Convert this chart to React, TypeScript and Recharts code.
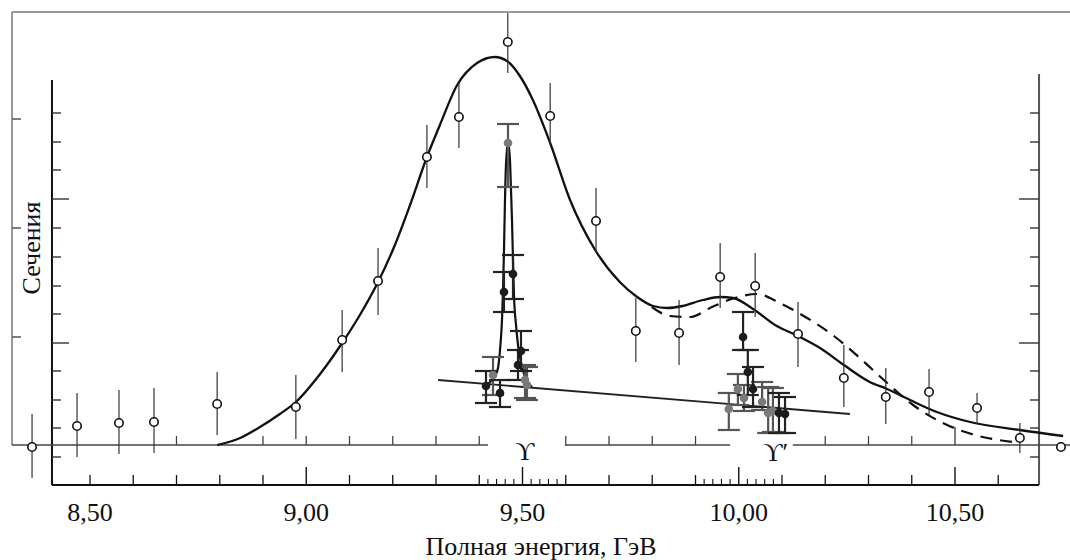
import React from 'react';
import { ComposedChart, XAxis, YAxis, Line, Scatter, ErrorBar, ReferenceLine, ReferenceDot } from 'recharts';

const FONT = '"Liberation Serif", "Times New Roman", "DejaVu Serif", serif';
const INK = '#111';

// wide scan, open circles: [energy GeV, cross-section, err down, err up]
const openPoints: [number, number, number, number][] = [
  [8.366, -0.2, 3.1, 3.3], [8.47, 1.9, 3.1, 3.3], [8.567, 2.2, 3.1, 3.3], [8.648, 2.3, 3.1, 3.4],
  [8.794, 4.1, 3.1, 3.2], [8.976, 3.8, 3.2, 3.2], [9.083, 10.5, 3.2, 3.0], [9.166, 16.4, 3.4, 3.3],
  [9.279, 28.8, 3.1, 3.2], [9.353, 32.8, 3.1, 3.4], [9.466, 40.3, 3.1, 2.9], [9.564, 32.9, 2.9, 3.3],
  [9.67, 22.4, 3.1, 3.3], [9.762, 11.4, 3.1, 3.3], [9.862, 11.2, 3.2, 3.3], [9.957, 16.8, 3.1, 3.4],
  [10.038, 15.9, 3.1, 3.3], [10.137, 11.1, 3.3, 3.2], [10.243, 6.7, 2.9, 3.3], [10.34, 4.8, 2.7, 2.9],
  [10.44, 5.3, 2.3, 2.3], [10.551, 3.7, 1.5, 1.5], [10.65, 0.7, 1.5, 1.5], [10.745, -0.2, 0.4, 0.4],
];

// broad fitted curve (solid)
const fitCurve: [number, number][] = [
  [8.794, 0], [8.847, 0.7], [8.893, 1.8], [8.939, 3.1], [8.976, 4.3], [9.032, 7.1], [9.083, 10.2], [9.124, 13.0],
  [9.166, 16.3], [9.205, 20.0], [9.24, 24.0], [9.279, 28.8], [9.309, 32.0], [9.349, 36.0], [9.395, 38.2],
  [9.436, 38.8], [9.464, 38.4], [9.494, 36.9], [9.524, 34.5], [9.564, 30.2], [9.61, 24.5], [9.668, 19.5],
  [9.725, 16.3], [9.762, 14.9], [9.802, 13.9], [9.835, 13.7], [9.87, 13.9], [9.917, 14.5], [9.957, 14.8],
  [9.987, 14.7], [10.033, 13.6], [10.088, 11.9], [10.137, 10.9], [10.188, 9.7], [10.243, 8.0], [10.303, 6.3],
  [10.343, 5.6], [10.396, 4.5], [10.458, 3.3], [10.535, 2.3], [10.65, 1.5], [10.75, 0.9],
];

// alternative fit (dashed)
const altCurve: [number, number][] = [
  [9.799, 13.8], [9.841, 12.9], [9.887, 12.8], [9.938, 13.8], [9.991, 14.7], [10.042, 15.1], [10.095, 14.2],
  [10.158, 12.7], [10.223, 10.8], [10.28, 8.7], [10.338, 6.4], [10.403, 4.0], [10.472, 2.2], [10.546, 1.0],
  [10.634, 0.3],
];

// fine scan background
const bgLine: [number, number][] = [[9.305, 6.5], [10.257, 3.1]];

// narrow Upsilon peak
const upsPeak: [number, number][] = [
  [9.4156, 5.9], [9.4249, 6.3], [9.4364, 6.9], [9.4434, 7.7], [9.448, 9.5], [9.4526, 12.5], [9.455, 15.5],
  [9.4572, 19.5], [9.4595, 24.5], [9.4618, 28.0], [9.4665, 30.3], [9.471, 28.5], [9.4734, 25.5],
  [9.4757, 22.5], [9.478, 18.5], [9.4803, 15.0], [9.485, 12.0], [9.4896, 10.0], [9.4965, 8.3],
  [9.5058, 6.8], [9.522, 5.8],
];

// fine scan points: [energy, cross-section, err down, err up]
const fineDark: [number, number, number, number][] = [
  [9.4156, 5.9, 1.7, 1.5], [9.448, 5.2, 1.4, 1.3], [9.4572, 15.3, 2.0, 2.0], [9.478, 17.1, 2.5, 1.9],
  [9.4965, 9.4, 2.0, 2.0], [9.4896, 8.0, 1.5, 1.5],
  [10.01, 10.8, 1.3, 2.5], [10.021, 7.3, 2.3, 2.2], [10.033, 5.6, 1.8, 2.2], [10.093, 3.2, 2.0, 2.0],
  [10.107, 3.1, 1.9, 1.7],
];
const fineGrey: [number, number, number, number][] = [
  [9.4318, 7.0, 2.0, 1.8], [9.4665, 30.2, 4.4, 1.9], [9.5058, 6.5, 1.8, 1.5], [9.5104, 6.0, 1.5, 1.8],
  [9.977, 3.6, 2.1, 1.6], [9.998, 5.6, 1.6, 1.5], [10.012, 4.7, 1.3, 1.3], [10.054, 4.3, 0.8, 2.0],
  [10.068, 3.2, 2.0, 2.6], [10.079, 3.4, 2.1, 2.3],
];

const tickValues = [8.5, 9, 9.5, 10, 10.5];
const tickLabels = ['8,50', '9,00', '9,50', '10,00', '10,50'];
const majorTicks = [9, 9.5, 10, 10.5];
const minorTicks = [8.5, 8.6, 8.7, 8.8, 8.9, 9.1, 9.2, 9.3, 9.4, 9.6, 9.7, 9.8, 9.9, 10.1, 10.2, 10.3, 10.4, 10.6];
const fineTicks = [9.42, 9.44, 9.46, 9.48, 9.52, 9.54, 9.56, 9.58, 9.92, 9.94, 9.96, 9.98, 10.02, 10.04, 10.06, 10.08];
const zeroTicks = [8.7, 8.9, 9.0, 9.1, 9.2, 9.3, 9.4, 9.6, 9.7, 9.8, 9.9, 10.2, 10.3, 10.4];
const zeroTallTicks = [10.5];
const zeroSegments: [number, number][] = [[8.3197, 9.42], [9.598, 9.98], [10.125, 10.7659]];
const sideTicks = [33.2, 30.3, 27.5, 21.7, 18.8, 15.9, 13.1, 7.4, 4.5, 1.7, -1.2];
const sideLongTicks = [24.6, 10.2];
const frameTicks = [32.6, 21.7, 10.8];

// layout (data units)
const X_MIN = 8.2919;
const X_MAX = 10.7659;
const Y_MIN = -4;
const Y_MAX = 44.5;
const PX_X = 1 / 432.5;
const PX_Y = 0.1;
const FRAME_X = 8.3197;
const FRAME_TOP = 43.3;
const LEFT_X = 8.4121;
const RIGHT_X = 10.6943;

const toXY = (rows: [number, number][]) => rows.map(([x, y]) => ({ x, y }));
const toErr = (rows: [number, number, number, number][]) =>
  rows.map(([x, y, lo, hi]) => ({ x, y, err: [lo, hi] }));

const OpenDot = (p: any) => <circle cx={p.cx} cy={p.cy} r={4.2} fill="#fff" stroke={INK} strokeWidth={1.6} />;
const DarkDot = (p: any) => <circle cx={p.cx} cy={p.cy} r={4.3} fill="#1c1c1c" />;
const GreyDot = (p: any) => <circle cx={p.cx} cy={p.cy} r={4.3} fill="#7a7a7a" />;

const seg = (key: string, x1: number, y1: number, x2: number, y2: number, stroke = INK, w = 1.4) => (
  <ReferenceLine
    key={key}
    segment={[{ x: x1, y: y1 }, { x: x2, y: y2 }]}
    stroke={stroke}
    strokeWidth={w}
    ifOverflow="visible"
  />
);

export default function App() {
  const lines: React.ReactNode[] = [];
  // frame
  lines.push(seg('ft', FRAME_X, FRAME_TOP, X_MAX, FRAME_TOP, '#777', 1.5));
  lines.push(seg('fl', FRAME_X, FRAME_TOP, FRAME_X, 0, '#777', 1.5));
  frameTicks.forEach((v, i) => lines.push(seg('fk' + i, FRAME_X, v, FRAME_X + 9 * PX_X, v, '#555', 1.5)));
  // left / right axes
  lines.push(seg('la', LEFT_X, 36.5, LEFT_X, Y_MIN, INK, 2));
  lines.push(seg('ra', RIGHT_X, 37.1, RIGHT_X, Y_MIN, '#555', 2));
  sideTicks.forEach((v, i) => {
    lines.push(seg('lt' + i, LEFT_X, v, LEFT_X + 9 * PX_X, v, '#333', 1.4));
    lines.push(seg('rt' + i, RIGHT_X, v, RIGHT_X - 9 * PX_X, v, '#333', 1.4));
  });
  sideLongTicks.forEach((v, i) => {
    lines.push(seg('ll' + i, LEFT_X, v, LEFT_X + 17 * PX_X, v, '#333', 1.4));
    lines.push(seg('rl' + i, RIGHT_X, v, RIGHT_X - 20 * PX_X, v, '#333', 1.4));
  });
  // bottom axis
  lines.push(seg('ba', LEFT_X, Y_MIN, RIGHT_X, Y_MIN, INK, 2));
  majorTicks.forEach((e, i) => lines.push(seg('bm' + i, e, Y_MIN, e, Y_MIN + 18 * PX_Y, INK, 1.4)));
  minorTicks.forEach((e, i) => lines.push(seg('bn' + i, e, Y_MIN, e, Y_MIN + 10 * PX_Y, INK, 1.3)));
  fineTicks.forEach((e, i) => lines.push(seg('bf' + i, e, Y_MIN, e, Y_MIN + 6 * PX_Y, INK, 1.1)));
  // zero line
  zeroSegments.forEach(([a, b], i) => lines.push(seg('z' + i, a, 0, b, 0, '#444', 1.5)));
  zeroTicks.forEach((e, i) => lines.push(seg('zt' + i, e, 0, e, 9 * PX_Y, '#444', 1.3)));
  zeroTallTicks.forEach((e, i) => lines.push(seg('zT' + i, e, 0, e, 18 * PX_Y, '#444', 1.4)));

  const textStyle = { fill: INK, fontSize: 26, fontFamily: FONT };

  return (
    <div style={{ position: 'absolute', left: 0, top: 0, width: 1070, height: 560, background: '#fff', fontFamily: FONT }}>
      <ComposedChart width={1070} height={560} margin={{ top: 0, right: 0, left: 0, bottom: 0 }}>
        <XAxis
          type="number"
          dataKey="x"
          domain={[X_MIN, X_MAX]}
          allowDataOverflow
          ticks={tickValues}
          tickFormatter={(v: number) => tickLabels[tickValues.indexOf(v)] ?? ''}
          axisLine={false}
          tickLine={false}
          tickSize={6}
          tickMargin={12}
          height={75}
          tick={textStyle}
          label={{ value: 'Полная энергия, ГэВ', position: 'insideBottom', offset: 5, dx: 6, ...textStyle }}
        />
        <YAxis type="number" domain={[Y_MIN, Y_MAX]} allowDataOverflow hide />
        {lines}
        <Line data={toXY(fitCurve)} dataKey="y" type="monotone" stroke={INK} strokeWidth={2.3} dot={false} isAnimationActive={false} />
        <Line data={toXY(altCurve)} dataKey="y" type="monotone" stroke={INK} strokeWidth={2.2} strokeDasharray="12 8" dot={false} isAnimationActive={false} />
        <Line data={toXY(bgLine)} dataKey="y" type="linear" stroke="#222" strokeWidth={1.8} dot={false} isAnimationActive={false} />
        <Line data={toXY(upsPeak)} dataKey="y" type="monotone" stroke={INK} strokeWidth={2.2} dot={false} isAnimationActive={false} />
        <Scatter data={toErr(fineGrey)} dataKey="y" shape={GreyDot} isAnimationActive={false}>
          <ErrorBar dataKey="err" direction="y" width={11} stroke="#555" strokeWidth={2.2} />
        </Scatter>
        <Scatter data={toErr(fineDark)} dataKey="y" shape={DarkDot} isAnimationActive={false}>
          <ErrorBar dataKey="err" direction="y" width={11} stroke="#222" strokeWidth={2.2} />
        </Scatter>
        <Scatter data={toErr(openPoints)} dataKey="y" shape={OpenDot} isAnimationActive={false}>
          <ErrorBar dataKey="err" direction="y" width={0} stroke="#333" strokeWidth={1.2} />
        </Scatter>
        <ReferenceDot x={8.3636} y={19.7} r={0} fill="none" stroke="none" ifOverflow="visible"
          label={{ value: 'Сечения', angle: -90, position: 'center', ...textStyle }} />
        <ReferenceDot x={9.5058} y={-0.6} r={0} fill="none" stroke="none" ifOverflow="visible"
          label={{ value: 'ϒ', position: 'center', ...textStyle }} />
        <ReferenceDot x={10.086} y={-0.7} r={0} fill="none" stroke="none" ifOverflow="visible"
          label={{ value: 'ϒ′', position: 'center', ...textStyle }} />
      </ComposedChart>
    </div>
  );
}
